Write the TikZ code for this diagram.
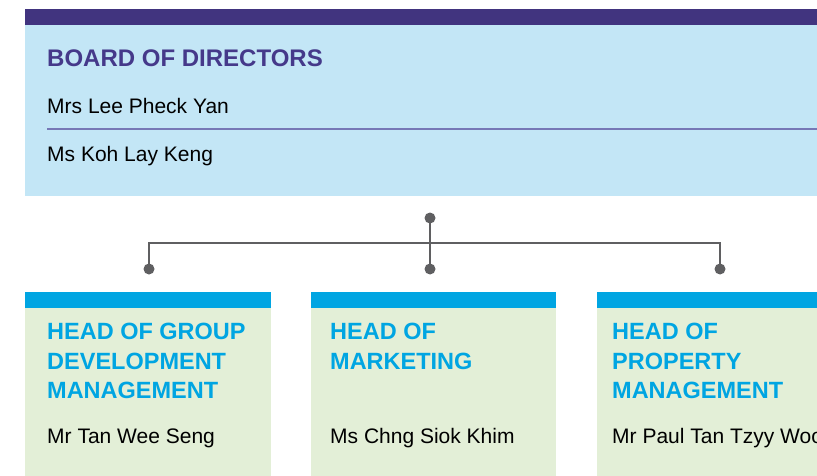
\documentclass[tikz,border=0pt]{standalone}
\usepackage{fontspec}
\setmainfont{Liberation Sans}
\usetikzlibrary{positioning}
\definecolor{boardbar}{HTML}{41347F}
\definecolor{boardfill}{HTML}{C3E6F6}
\definecolor{boardtext}{HTML}{45398A}
\definecolor{boardrule}{HTML}{7678B6}
\definecolor{headbar}{HTML}{00A5E2}
\definecolor{headfill}{HTML}{E3EFD7}
\definecolor{linkgray}{HTML}{5F5F61}

\begin{document}
\begin{tikzpicture}
        [x=1pt, y=-1pt,
         panel/.style={anchor=north west, inner sep=0pt, outer sep=0pt},
         heading/.style={anchor=base west, inner sep=0pt, align=left, font=\fontsize{23.5}{29.5}\selectfont\bfseries},
         person/.style={anchor=base west, inner sep=0pt, font=\fontsize{21}{26}\selectfont},
         dot/.style={circle, fill=linkgray, inner sep=0pt, minimum size=11pt},
         link/.style={draw=linkgray, line width=2pt}]
        
        \useasboundingbox (0,0) rectangle (817,476);
        \clip (0,0) rectangle (817,476);
        
        % board
        \node [panel, fill=boardbar, minimum width=820pt, minimum height=16pt]  (bbar)  at (25,9.5) {};
        \node [panel, fill=boardfill, minimum width=820pt, minimum height=170.5pt] (board) [below=0pt of bbar.south west, anchor=north west] {};
        
        \node [heading, text=boardtext, font=\fontsize{24}{29.5}\selectfont\bfseries] (btitle) at (47,67) {BOARD OF DIRECTORS};
        \node [person] (m1) at (47,114) {Mrs Lee Pheck Yan};
        \node [person] (m2) at (47,161) {Ms Koh Lay Keng};
        \coordinate (rulel) at (47,129);
        \coordinate (ruler) at (820,129);
        \draw [boardrule, line width=1.6pt] (rulel) -- (ruler);
        
        % heads
        \node [panel, fill=headbar, minimum width=246pt, minimum height=15.5pt] (h1bar) at (25,292) {};
        \node [panel, fill=headbar, minimum width=245pt, minimum height=15.5pt] (h2bar) at (310.5,292) {};
        \node [panel, fill=headbar, minimum width=246pt, minimum height=15.5pt] (h3bar) at (596.5,292) {};
        \node [panel, fill=headfill, minimum width=246pt, minimum height=175pt] (h1) [below=0pt of h1bar.south west, anchor=north west] {};
        \node [panel, fill=headfill, minimum width=245pt, minimum height=175pt] (h2) [below=0pt of h2bar.south west, anchor=north west] {};
        \node [panel, fill=headfill, minimum width=246pt, minimum height=175pt] (h3) [below=0pt of h3bar.south west, anchor=north west] {};
        
        % base of a multi-line heading is its last line
        \node [heading, text=headbar] (t1) at (47,398.5)  {HEAD OF GROUP\\DEVELOPMENT\\MANAGEMENT};
        \node [heading, text=headbar] (t2) at (330,369) {HEAD OF\\MARKETING};
        \node [heading, text=headbar] (t3) at (612,398.5) {HEAD OF\\PROPERTY\\MANAGEMENT};
        
        \node [person] (n1) at (47,443)  {Mr Tan Wee Seng};
        \node [person] (n2) at (330,443) {Ms Chng Siok Khim};
        \node [person] (n3) at (612,443) {Mr Paul Tan Tzyy Woon};
        
        % connectors
        \node [dot] (top) at (430,218) {};
        \node [dot] (d1)  at (149,269) {};
        \node [dot] (d2)  at (430,269) {};
        \node [dot] (d3)  at (720,269) {};
        \coordinate (bus) at (430,243);
        
        \draw [link] (top.center) -- (d2.center);
        \draw [link] (bus) -| (d1.center);
        \draw [link] (bus) -| (d3.center);
        
\end{tikzpicture}
\end{document}
